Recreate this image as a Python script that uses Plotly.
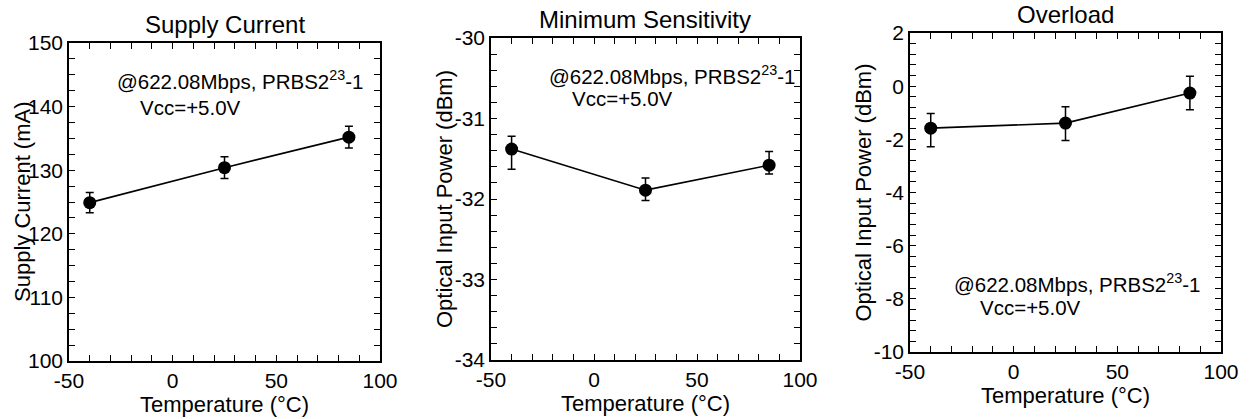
import plotly.graph_objects as go

# measured points, temperature in degC
temps = [-40, 25, 85]

supply_current = [124.9, 130.4, 135.2]
supply_err = [1.6, 1.7, 1.7]

sensitivity = [-31.38, -31.89, -31.58]
sensitivity_err_up = [0.16, 0.15, 0.17]
sensitivity_err_down = [0.25, 0.13, 0.11]

overload = [-1.58, -1.39, -0.26]
overload_err_up = [0.55, 0.62, 0.63]
overload_err_down = [0.70, 0.65, 0.63]

# tick labels (plain hyphen like the scanned original)
x_ticks = [-50, 0, 50, 100]
supply_ticks = [100, 110, 120, 130, 140, 150]
sens_ticks = [-34, -33, -32, -31, -30]
over_ticks = [-10, -8, -6, -4, -2, 0, 2]

panel_titles = ["Supply Current", "Minimum Sensitivity", "Overload"]
y_titles = ["Supply Current (mA)", "Optical Input Power (dBm)", "Optical Input Power (dBm)"]
note_line1 = "@622.08Mbps, PRBS2<sup>23</sup>-1"
note_line2 = "Vcc=+5.0V"

W, H = 1257, 419
FONT = "Liberation Sans, Arial, Helvetica, sans-serif"

# pixel boxes of the three frames: (left, right, top, bottom)
boxes = [(69, 380, 43, 361), (491, 800, 38, 360), (910, 1221, 33, 352)]
y_ticks = [supply_ticks, sens_ticks, over_ticks]
y_minor = [2.5, 0.2, 0.4]


def tick_marks(labels, step):
    """Tick every `step` between first and last label; text only on labelled ones."""
    vals, texts = [], []
    k = 0
    while True:
        v = round(labels[0] + k * step, 4)
        if v > labels[-1] + 1e-9:
            break
        vals.append(v)
        hit = [lab for lab in labels if abs(lab - v) < 1e-6]
        texts.append(str(hit[0]) if hit else "")
        k += 1
    return vals, texts


fig = go.Figure()

series = [
    (supply_current, supply_err, supply_err),
    (sensitivity, sensitivity_err_up, sensitivity_err_down),
    (overload, overload_err_up, overload_err_down),
]
for i, (vals, up, down) in enumerate(series):
    n = "" if i == 0 else str(i + 1)
    fig.add_trace(go.Scatter(
        x=temps, y=vals, mode="lines+markers",
        xaxis="x" + n, yaxis="y" + n,
        line=dict(color="black", width=1.6),
        marker=dict(color="black", size=13),
        error_y=dict(type="data", symmetric=False, array=up, arrayminus=down,
                     color="black", thickness=1.5, width=4),
        showlegend=False,
    ))

axis_common = dict(
    showgrid=False, zeroline=False, showline=True, linecolor="black", linewidth=1.5,
    mirror="allticks", ticks="inside", ticklen=6, tickwidth=1.3, tickcolor="black",
    tickfont=dict(family=FONT, size=21, color="black"), automargin=False,
)

annotations = []
note_pos = [
    ((-27.8, 144.2), (-16.7, 139.9)),
    ((-22.8, -30.46), (-11.7, -30.75)),
    ((-29.7, -7.40), (-17.2, -8.34)),
]
xv, xt = tick_marks(x_ticks, 10)
for i, (l, r, t, b) in enumerate(boxes):
    n = "" if i == 0 else str(i + 1)
    xd = [l / W, r / W]
    yd = [1 - b / H, 1 - t / H]
    yt = y_ticks[i]
    yv, ytx = tick_marks(yt, y_minor[i])
    fig.update_layout(**{
        "xaxis" + n: dict(
            axis_common, domain=xd, range=[-50, 100], anchor="y" + n,
            tickmode="array", tickvals=xv, ticktext=xt,
            title=dict(text="Temperature (°C)", standoff=0,
                       font=dict(family=FONT, size=22, color="black")),
        ),
        "yaxis" + n: dict(
            axis_common, domain=yd, range=[yt[0], yt[-1]], anchor="x" + n,
            tickmode="array", tickvals=yv, ticktext=ytx,
        ),
    })
    # y title placed as rotated text, overlapping the tick labels a bit as in the scan
    annotations.append(dict(
        text=y_titles[i], xref="paper", yref="paper",
        x=(l - 47) / W, y=(yd[0] + yd[1]) / 2, textangle=-90,
        xanchor="center", yanchor="middle", showarrow=False,
        font=dict(family=FONT, size=22, color="black"),
    ))
    annotations.append(dict(
        text=panel_titles[i], xref="paper", yref="paper",
        x=(l + r) / 2 / W, y=1 - t / H + 0.008, xanchor="center", yanchor="bottom",
        showarrow=False, font=dict(family=FONT, size=24, color="black"),
    ))
    (x1, y1), (x2, y2) = note_pos[i]
    for txt, xx, yy in [(note_line1, x1, y1), (note_line2, x2, y2)]:
        annotations.append(dict(
            text=txt, xref="x" + n, yref="y" + n, x=xx, y=yy,
            xanchor="left", yanchor="middle", showarrow=False,
            font=dict(family=FONT, size=20.5, color="black"),
        ))

fig.update_layout(
    width=W, height=H,
    margin=dict(l=0, r=0, t=0, b=0),
    paper_bgcolor="white", plot_bgcolor="white",
    annotations=annotations,
)

# drop the default 8px page margin so the figure fills the window exactly
fig.write_html("out.html", config={"displayModeBar": False},
               post_script="document.body.style.margin='0';")
